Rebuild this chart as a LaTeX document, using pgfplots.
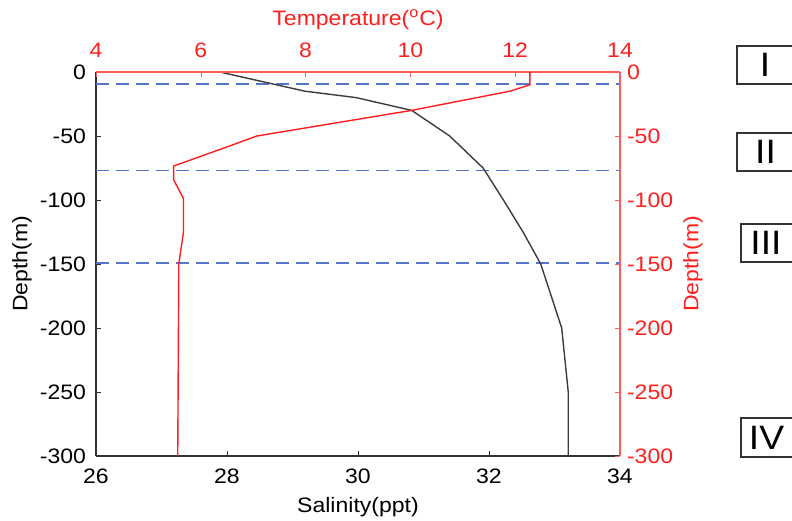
\documentclass[border=0pt]{standalone}
\usepackage{pgfplots}
\pgfplotsset{compat=1.18}
\usepackage{fontspec}
\setmainfont{Liberation Sans}[FakeStretch=1.1]
\definecolor{tred}{RGB}{255,30,30}
\definecolor{axred}{RGB}{255,90,90}
\definecolor{dblue}{RGB}{85,118,200}
\definecolor{salg}{RGB}{60,60,60}
\begin{document}
\begin{tikzpicture}[x=1bp,y=1bp]
\useasboundingbox (-48,-32.5) rectangle (348,228);
% Salinity axis (bottom / left)
\begin{axis}[at={(0,0)}, anchor=south west, scale only axis,
  width=262bp, height=192bp,
  xmin=26, xmax=34, ymin=-300, ymax=0,
  xtick={26,28,30,32,34}, ytick={-300,-250,-200,-150,-100,-50,0},
  axis x line*=bottom, axis y line*=left,
  axis line style={-, black!80, line width=0.6bp}, tick style={black!80},
  tick align=inside, major tick length=2.5bp,
  font=\fontsize{10.5}{12}\selectfont,
  /pgf/number format/assume math mode=true,
  xticklabel style={anchor=center, yshift=-10bp},
  yticklabel style={xshift=-1.5bp},
  xlabel={Salinity(ppt)}, ylabel={Depth(m)},
  xlabel style={at={(axis description cs:0.5,-0.1328)}, anchor=center},
  ylabel style={at={(axis description cs:-0.1412,0.5)}, anchor=center},
  clip=false]
\addplot[dblue, line width=0.9bp, dash pattern=on 6.5bp off 3.5bp] coordinates {(26,-9.5) (34,-9.5)};
\addplot[dblue, line width=0.9bp, dash pattern=on 6.5bp off 3.5bp] coordinates {(26,-77) (34,-77)};
\addplot[dblue, line width=0.9bp, dash pattern=on 6.5bp off 3.5bp] coordinates {(26,-149.5) (34,-149.5)};
\addplot[salg, line width=0.7bp] coordinates {
(27.89,0) (29.19,-15) (29.97,-20) (30.82,-30) (31.40,-50) (31.91,-75)
(32.22,-100) (32.52,-125) (32.79,-150) (33.11,-200) (33.21,-250) (33.21,-300)};
\end{axis}
% Temperature axis (top / right)
\begin{axis}[at={(0,0)}, anchor=south west, scale only axis,
  width=262bp, height=192bp,
  xmin=4, xmax=14, ymin=-300, ymax=0,
  xtick={4,6,8,10,12,14}, ytick={-300,-250,-200,-150,-100,-50,0},
  axis x line*=top, axis y line*=right,
  axis line style={-, axred, line width=0.6bp}, tick style={axred},
  tick align=inside, major tick length=2.5bp,
  font=\fontsize{10.5}{12}\selectfont,
  /pgf/number format/assume math mode=true,
  ticklabel style={text=tred},
  xticklabel style={anchor=center, yshift=11bp},
  xlabel={Temperature(\textsuperscript{o}C)}, ylabel={Depth(m)},
  label style={text=tred},
  xlabel style={at={(axis description cs:0.5,1.1354)}, anchor=center},
  ylabel style={at={(axis description cs:1.1393,0.5)}, anchor=center, rotate=0},
  clip=false]
\addplot[tred, line width=0.7bp] coordinates {
(12.28,0) (12.28,-10) (11.90,-15) (10.02,-30) (7.07,-50) (6.40,-60)
(5.48,-73.5) (5.48,-84) (5.67,-99) (5.67,-125) (5.58,-150) (5.56,-300)};
\end{axis}
% zone boxes
\begin{scope}[line width=0.75bp, draw=black!80, font=\fontsize{17}{18}\selectfont]
\draw (320.5,186) rectangle (370,205);
\node at (334.5,195.5) {I};
\draw (320.5,142.5) rectangle (370,161.5);
\node at (334.8,152) {II};
\draw (322.5,97) rectangle (370,116);
\node at (335,106.5) {III};
\draw (322.5,-0.5) rectangle (370,19);
\node at (335.3,9.25) {IV};
\end{scope}
\end{tikzpicture}
\end{document}
